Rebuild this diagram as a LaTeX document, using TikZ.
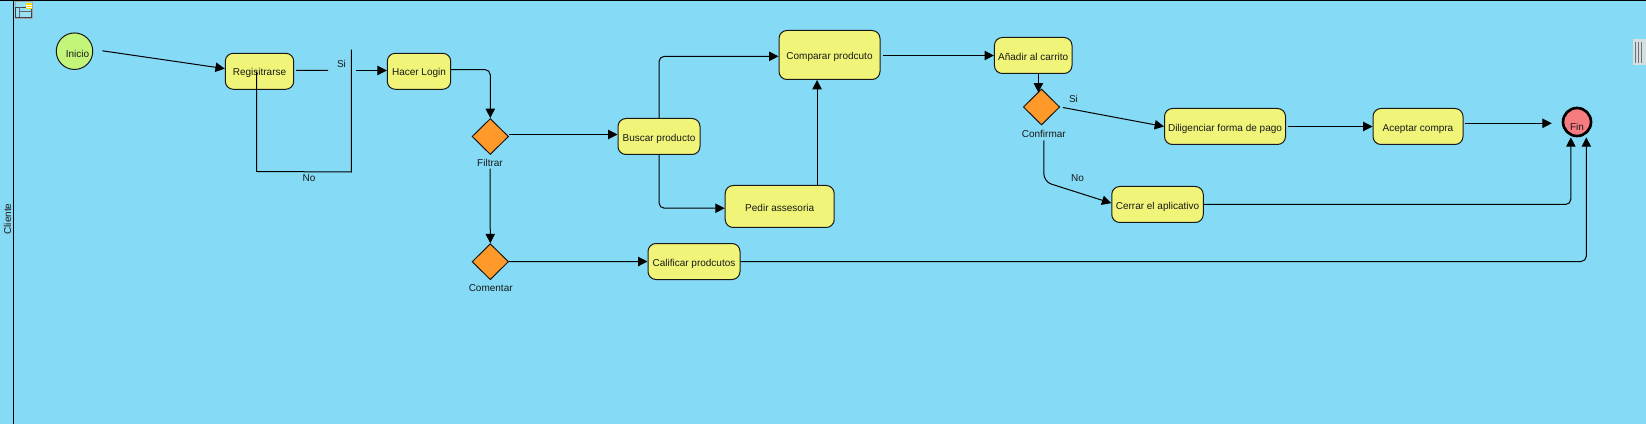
\documentclass[tikz,border=0pt]{standalone}
\usepackage{fontspec}
\setmainfont{Liberation Sans}
\usetikzlibrary{arrows.meta,shapes.geometric}
\definecolor{lanebg}{RGB}{133,219,245}
\definecolor{taskfill}{RGB}{240,244,120}
\definecolor{gatefill}{RGB}{255,153,41}
\definecolor{startfill}{RGB}{195,245,122}
\definecolor{endfill}{RGB}{247,124,128}
\definecolor{handlefill}{RGB}{215,222,226}
\definecolor{handlebar}{RGB}{110,115,115}
\tikzset{
  x=0.75pt,y=-0.75pt,
  every node/.style={font=\fontsize{7.5pt}{9pt}\selectfont,text=black!90,inner sep=0pt,text height=5.4pt,text depth=0pt},
  sz/.style 2 args={minimum width=#1*0.75pt,minimum height=#2*0.75pt},
  taskbox/.style={draw=black!90,line width=0.75pt,fill=taskfill,rounded corners=6pt,text height=7pt},
  gatebox/.style={draw=black!90,line width=0.75pt,fill=gatefill,diamond,aspect=1},
  startev/.style={draw=black!90,line width=0.75pt,fill=startfill,circle,minimum size=36.5*0.75pt},
  endev/.style={draw=black,line width=2pt,fill=endfill,circle,minimum size=28*0.75pt},
  wire/.style={draw=black,line width=0.75pt,rounded corners=4pt},
  flow/.style={wire,-{Triangle[length=7pt,width=7pt]}},
}
\begin{document}
\begin{tikzpicture}
\useasboundingbox (0,0) rectangle (1646,424);
\fill[lanebg] (0,0) rectangle (1646,424);
\draw[black,line width=1.1pt] (0,0.5) -- (1646,0.5);
\draw[black,line width=0.9pt] (13.5,0) -- (13.5,424);
\node[rotate=90] (lane) at (7.5,219) {Cliente};
% lane icon
\draw[black!35,line width=0.6pt,fill=lanebg!85!white] (15,1.5) rectangle (32.5,18.5);
\draw[black!75,line width=0.7pt] (15.5,7.5) rectangle (31.5,17.5);
\draw[black!60,line width=0.7pt] (19.5,7.5) -- (19.5,17.5);
\draw[black!60,line width=0.7pt] (20,11.5) -- (31.5,11.5);
\fill[yellow!80!orange] (26,3) rectangle (32,9.5);
\draw[white,line width=0.4pt] (26,5) -- (32,5) (26,7.2) -- (32,7.2);
% scroll handle
\fill[handlefill] (1633,39) rectangle (1645.5,65.5);
\draw[handlebar,line width=0.9pt] (1635.5,42) -- (1635.5,63) (1638.5,42) -- (1638.5,63) (1641.5,42) -- (1641.5,63);
% nodes
\node[startev] (inicio) at (74.5,51.2) {\hspace*{4.5pt}\raisebox{-1.9pt}{Inicio}};
\node[taskbox,sz={68.4}{36}] (reg) at (259.5,71.3) {Regisitrarse};
\node[taskbox,sz={63.4}{36}] (login) at (419,71.3) {Hacer Login};
\node[gatebox,sz={36.5}{36}] (filtrar) at (490.3,136.5) {};
\node (filtrarT) at (490,162.7) {Filtrar};
\node[gatebox,sz={36.5}{36}] (comentar) at (490.3,261.7) {};
\node (comentarT) at (490.7,287.7) {Comentar};
\node[taskbox,sz={82}{36}] (buscar) at (659,136.5) {Buscar producto};
\node[taskbox,sz={101}{49}] (comparar) at (829.5,55) {Comparar prodcuto};
\node[taskbox,sz={109}{42}] (pedir) at (779.7,206.5) {Pedir assesoria};
\node[taskbox,sz={92}{36}] (calificar) at (694,261.5) {Calificar prodcutos};
\node[taskbox,sz={77.6}{36}] (anadir) at (1033.2,55.5) {Añadir al carrito};
\node[gatebox,sz={36.5}{36}] (confirmar) at (1041.5,107) {};
\node (confirmarT) at (1043.8,133.7) {Confirmar};
\node[taskbox,sz={121}{36}] (dilig) at (1225,126.5) {Diligenciar forma de pago};
\node[taskbox,sz={90}{36}] (aceptar) at (1418,126.5) {Aceptar compra};
\node[taskbox,sz={91.5}{36}] (cerrar) at (1157.5,204.5) {Cerrar el aplicativo};
\node[endev] (fin) at (1577,122) {\raisebox{-3.8pt}{Fin}};
\node (si1) at (341.5,63.5) {Si};
\node (no1) at (309,177.7) {No};
\node (si2) at (1073.5,99.3) {Si};
\node (no2) at (1077.5,177.7) {No};
% free corners of the hand-drawn loop
\coordinate (gTop) at (351.3,49.7);
\coordinate (gBot) at (351.3,172);
\coordinate (gLeft) at (256.5,171.5);
\coordinate (siEnd) at (328,70.5);
\coordinate (noTurn) at (1043.8,181.7);
\coordinate (finIn) at (1551.8,123.3);
% connectors
\draw[flow,shorten <=7pt] ([yshift=1.3pt]inicio.east) -- ([yshift=2pt]reg.west);
\draw[wire,shorten <=1.5pt] ([yshift=0.6pt]reg.east) -- (siEnd);
\draw[wire,rounded corners=0pt] (gTop) -- (gBot) -- (gLeft) -- (gLeft |- reg.center);
\draw[flow,shorten <=3.5pt] ([yshift=0.6pt]gTop |- reg.center) -- ([yshift=0.6pt]login.west);
\draw[flow] ([yshift=1.3pt]login.east) -| (filtrar.north);
\draw[flow] ([yshift=1.5pt]filtrar.east) -- ([yshift=1.5pt]filtrar.east -| buscar.west);
\draw[flow] (filtrarT.south) ++(0,2) -- (comentar.north);
\draw[flow] (comentar.east) -- (calificar.west);
\draw[flow] (buscar.north) |- ([yshift=-1pt]comparar.west);
\draw[flow] (buscar.south) |- ([yshift=-1.3pt]pedir.west);
\draw[flow] ([xshift=28pt]pedir.north) -- ([xshift=28pt]pedir.north |- comparar.south);
\draw[flow,shorten <=1.5pt] (comparar.east |- anadir.west) -- (anadir.west);
\draw[flow] ([xshift=3.9pt]anadir.south) -- ([xshift=3.9pt,yshift=-3pt]anadir.south |- confirmar.north);
\draw[flow,shorten <=2pt] (confirmar.east) -- (dilig.west);
\draw[flow,shorten <=1.5pt] (dilig.east) -- (aceptar.west);
\draw[flow,shorten <=0.8pt] (aceptar.east |- finIn) -- (finIn);
\draw[flow,rounded corners=6pt] (confirmarT.south) ++(0,2.7) -- (noTurn) -- ([yshift=1pt]cerrar.west);
\draw[flow] (cerrar.east) -| ([xshift=-4.6pt]fin.south);
\draw[flow] (calificar.east) -| ([xshift=7pt]fin.south);
\end{tikzpicture}
\end{document}
